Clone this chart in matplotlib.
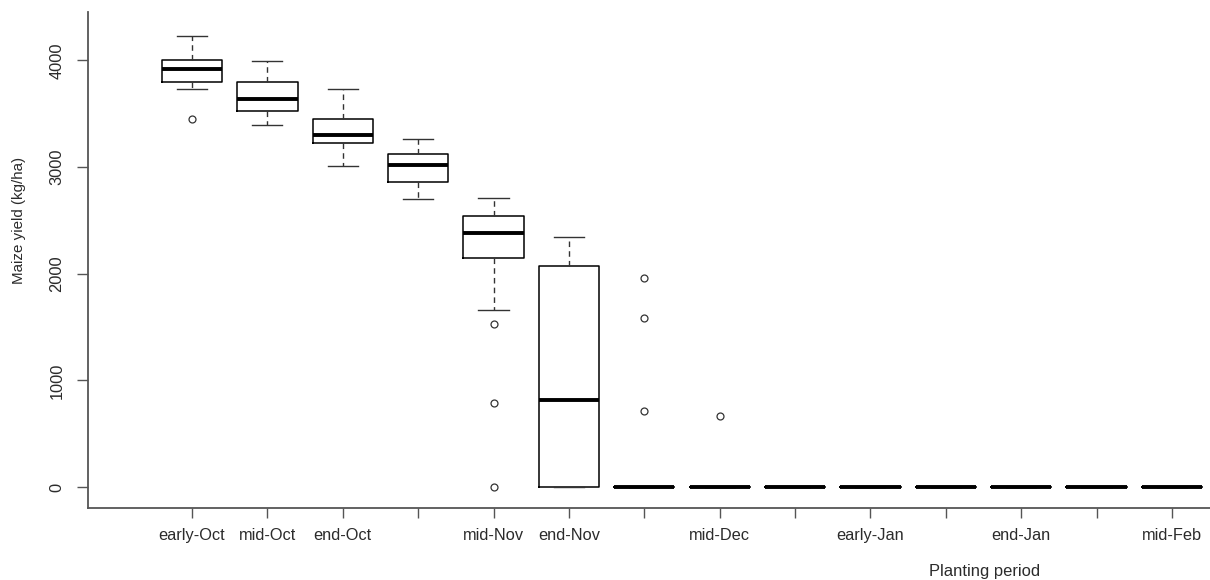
import numpy as np
import matplotlib.pyplot as plt

# planting periods, in order along the x axis
periods = ["early-Oct", "mid-Oct", "end-Oct", "early-Nov", "mid-Nov", "end-Nov",
           "early-Dec", "mid-Dec", "end-Dec", "early-Jan", "mid-Jan", "end-Jan",
           "early-Feb", "mid-Feb"]
# R drops labels that would overlap, only these show
shown = ["early-Oct", "mid-Oct", "end-Oct", "mid-Nov", "end-Nov",
         "mid-Dec", "early-Jan", "end-Jan", "mid-Feb"]

# box statistics (kg/ha)
whisk_lo = [3733, 3393, 3011, 2699, 1656, 0, 0, 0, 0, 0, 0, 0, 0, 0]
q1 = [3800, 3524, 3227, 2858, 2143, 0, 0, 0, 0, 0, 0, 0, 0, 0]
med = [3916, 3634, 3299, 3018, 2381, 812, 0, 0, 0, 0, 0, 0, 0, 0]
q3 = [4000, 3793, 3455, 3121, 2543, 2074, 0, 0, 0, 0, 0, 0, 0, 0]
whisk_hi = [4227, 3992, 3733, 3261, 2711, 2346, 0, 0, 0, 0, 0, 0, 0, 0]
outliers = [[3455], [], [], [], [1525, 790, 0], [], [1956, 1587, 712], [668],
            [], [], [], [], [], []]

txt = "#2b2b2b"
plt.rcParams["font.family"] = ["Liberation Sans", "DejaVu Sans"]

stats = []
for i, p in enumerate(periods):
    stats.append({"label": p, "whislo": whisk_lo[i], "q1": q1[i], "med": med[i],
                  "q3": q3[i], "whishi": whisk_hi[i], "fliers": outliers[i]})

fig = plt.figure(figsize=(12.1, 5.8), dpi=100)
ax = fig.add_axes([0.0727, 0.124, 0.927, 0.855])

pos = np.arange(1, len(periods) + 1)
ax.bxp(stats, positions=pos, widths=0.8, patch_artist=False, manage_ticks=False,
       boxprops=dict(color="black", linewidth=1.1),
       medianprops=dict(color="black", linewidth=2.8, solid_capstyle="butt"),
       whiskerprops=dict(color="#333333", linewidth=1.0, linestyle=(0, (4, 3))),
       capprops=dict(color="#333333", linewidth=1.0),
       capwidths=0.4,
       flierprops=dict(marker="o", markersize=5, markerfacecolor="none",
                       markeredgecolor="#333333", markeredgewidth=0.9))

ax.set_xlim(-0.38, 14.5)
ax.set_ylim(-197, 4452)

ax.set_xticks(pos)
ax.set_xticklabels([p if p in shown else "" for p in periods])
ax.set_yticks([0, 1000, 2000, 3000, 4000])
ax.set_yticklabels(["0", "1000", "2000", "3000", "4000"], rotation=90, va="center")

for s in ["top", "right"]:
    ax.spines[s].set_visible(False)
for s in ["left", "bottom"]:
    ax.spines[s].set_color("#555555")
    ax.spines[s].set_linewidth(1.3)

ax.tick_params(axis="x", length=7, width=1, color="#555555", labelsize=11.8,
               labelcolor=txt, pad=7)
ax.tick_params(axis="y", length=8, width=1, color="#555555", labelsize=11.8,
               labelcolor=txt, pad=9)

fig.text(0.814, 0.014, "Planting period", fontsize=11.9, color=txt, ha="center", va="center")
fig.text(0.016, 0.620, "Maize yield (kg/ha)", fontsize=10.9, color=txt,
         ha="center", va="center", rotation=90)

fig.savefig("out.png", dpi=100)
